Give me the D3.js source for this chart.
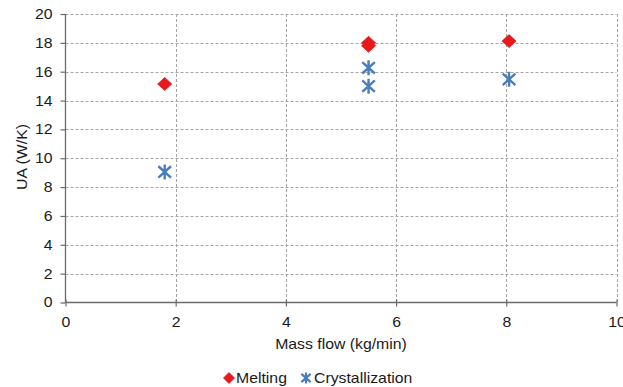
<!DOCTYPE html>
<html>
<head>
<meta charset="utf-8">
<script src="https://cdn.jsdelivr.net/npm/d3@7"></script>
<style>
  html, body { margin: 0; padding: 0; background: #fff; }
  svg { display: block; font-family: "Liberation Sans", Arial, sans-serif; }
</style>
</head>
<body>
<svg id="chart" width="623" height="387"></svg>
<script>
// Measured UA values against mass flow
const meltingFlow = [1.8, 5.5, 5.5, 8.05];
const meltingUA = [15.15, 17.8, 18.0, 18.12];
const crystFlow = [1.8, 5.5, 5.5, 8.05];
const crystUA = [9.05, 16.27, 15.0, 15.47];
const xTicks = [0, 2, 4, 6, 8, 10];
const yTicks = [0, 2, 4, 6, 8, 10, 12, 14, 16, 18, 20];
const seriesNames = ["Melting", "Crystallization"];

const svg = d3.select("#chart");
const plotLeft = 65.5, plotRight = 616.5, plotTop = 14, plotBottom = 302.5;
const widen = 1.13; // slightly wide lettering

const x = d3.scaleLinear().domain([0, 10]).range([plotLeft, plotRight]);
const y = d3.scaleLinear().domain([0, 20]).range([plotBottom, plotTop]);

const red = "#e8191c", blue = "#4a7ebb", axisCol = "#6b6b6b", gridCol = "#a6a6a6", ink = "#1a1a1a";

// grid
svg.append("g").selectAll("line").data(yTicks.filter(d => d > 0)).join("line")
  .attr("x1", plotLeft).attr("x2", plotRight)
  .attr("y1", d => Math.round(y(d)) + 0.5).attr("y2", d => Math.round(y(d)) + 0.5)
  .attr("stroke", gridCol).attr("stroke-width", 1).attr("stroke-dasharray", "3,2");
svg.append("g").selectAll("line").data(xTicks.filter(d => d > 0)).join("line")
  .attr("x1", d => Math.round(x(d)) + 0.5).attr("x2", d => Math.round(x(d)) + 0.5)
  .attr("y1", plotTop).attr("y2", plotBottom)
  .attr("stroke", gridCol).attr("stroke-width", 1).attr("stroke-dasharray", "3,2");

// axes
const yAxis = svg.append("g").attr("transform", `translate(${plotLeft},0)`)
  .call(d3.axisLeft(y).tickValues(yTicks).tickSize(5).tickPadding(0).tickFormat(d3.format("d")));
const xAxis = svg.append("g").attr("transform", `translate(0,${plotBottom})`)
  .call(d3.axisBottom(x).tickValues(xTicks).tickSize(4).tickPadding(0).tickFormat(d3.format("d")));
xAxis.selectAll(".tick line").attr("y1", -3);
[yAxis, xAxis].forEach(g => {
  g.select(".domain").attr("stroke", axisCol).attr("stroke-width", 1.3);
  g.selectAll(".tick line").attr("stroke", axisCol).attr("stroke-width", 1.2);
  g.selectAll(".tick text").attr("fill", ink).style("font-size", "14px")
    .style("font-family", '"Liberation Sans", Arial, sans-serif');
});
yAxis.selectAll(".tick text").attr("x", null).attr("transform", `translate(-13,0) scale(${widen},1)`);
xAxis.selectAll(".tick text").attr("y", null).attr("dy", null)
  .attr("transform", `translate(0,24) scale(${widen},1)`);
xAxis.select(".domain").attr("d", `M${plotLeft},0H${plotRight}`);
yAxis.select(".domain").attr("d", `M0,${plotBottom}V${plotTop}`);

function label(tx, ty, rot, anchor, str) {
  return svg.append("text").attr("transform", `translate(${tx},${ty}) rotate(${rot}) scale(${widen},1)`)
    .attr("text-anchor", anchor).attr("fill", ink).style("font-size", "14px").text(str);
}

// axis titles
label(341, 349, 0, "middle", "Mass flow (kg/min)");
label(27, 157, -90, "middle", "UA (W/K)");

// marker shapes
function diamond(g, cx, cy, w, h) {
  g.append("path").attr("d", `M${cx},${cy - h / 2}L${cx + w / 2},${cy}L${cx},${cy + h / 2}L${cx - w / 2},${cy}Z`)
    .attr("fill", red).attr("stroke", red).attr("stroke-width", 0.8).attr("stroke-linejoin", "round");
}
function asterisk(g, cx, cy, s, sw) {
  const dx = s * 0.42, dy = s * 0.38;
  g.append("path")
    .attr("d", `M${cx},${cy - s / 2}V${cy + s / 2}M${cx - dx},${cy - dy}L${cx + dx},${cy + dy}M${cx - dx},${cy + dy}L${cx + dx},${cy - dy}`)
    .attr("stroke", blue).attr("stroke-width", sw).attr("fill", "none");
}

const marks = svg.append("g");
crystFlow.forEach((f, i) => asterisk(marks, x(f), y(crystUA[i]), 15, 2.4));
meltingFlow.forEach((f, i) => diamond(marks, x(f), y(meltingUA[i]), 14, 13));

// legend
const lg = svg.append("g");
diamond(lg, 229, 378, 11, 11);
label(236, 383, 0, "start", seriesNames[0]);
asterisk(lg, 306, 378, 11, 2.2);
label(314, 383, 0, "start", seriesNames[1]);
</script>
</body>
</html>
